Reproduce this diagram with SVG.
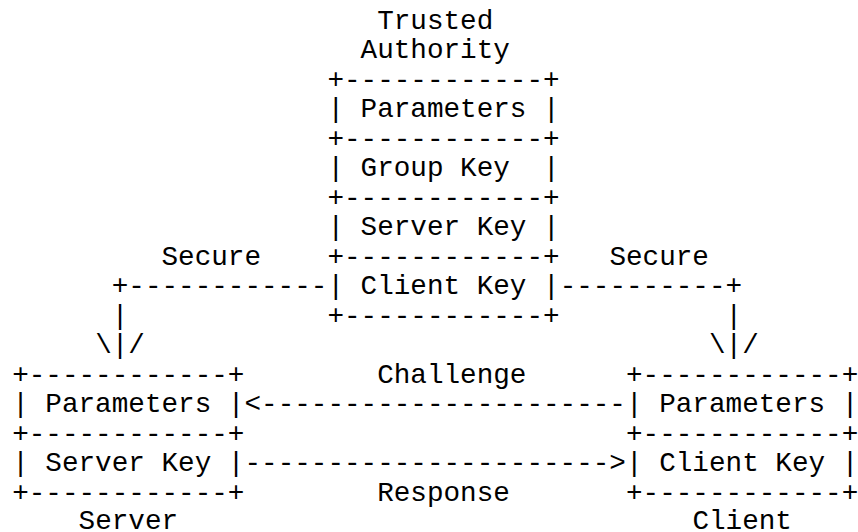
<svg xmlns="http://www.w3.org/2000/svg" width="858" height="532" viewBox="0 0 858 532" xml:space="preserve">
<style>
text { font-family: "Liberation Mono", "Courier New", "DejaVu Sans Mono", monospace; font-size: 27.65px; fill: #000; white-space: pre; }
</style>
<rect x="0" y="0" width="858" height="532" fill="#fff"/>
<g id="trusted-authority">
<text x="377.18" y="29">Trusted</text>
<text x="360.59" y="58.47">Authority</text>
<text x="327.41" y="87.94">+------------+</text>
<text x="327.41" y="117.41">| Parameters |</text>
<text x="327.41" y="146.88">+------------+</text>
<text x="327.41" y="176.35">| Group Key  |</text>
<text x="327.41" y="205.82">+------------+</text>
<text x="327.41" y="235.29">| Server Key |</text>
<text x="327.41" y="264.76">+------------+</text>
<text x="327.41" y="294.23">| Client Key |</text>
<text x="327.41" y="323.7">+------------+</text>
</g>
<g id="server">
<text x="12.2" y="382.64">+------------+</text>
<text x="12.2" y="412.11">| Parameters |</text>
<text x="12.2" y="441.58">+------------+</text>
<text x="12.2" y="471.05">| Server Key |</text>
<text x="12.2" y="500.52">+------------+</text>
<text x="78.56" y="528.5">Server</text>
</g>
<g id="client">
<text x="626.03" y="382.64">+------------+</text>
<text x="626.03" y="412.11">| Parameters |</text>
<text x="626.03" y="441.58">+------------+</text>
<text x="626.03" y="471.05">| Client Key |</text>
<text x="626.03" y="500.52">+------------+</text>
<text x="692.39" y="528.5">Client</text>
</g>
<g id="connectors">
<text x="161.51" y="264.76">Secure</text>
<text x="609.44" y="264.76">Secure</text>
<text x="111.74" y="294.23">+------------</text>
<text x="559.67" y="294.23">----------+</text>
<text x="111.74" y="323.7">|</text>
<text x="725.57" y="323.7">|</text>
<text x="95.15" y="353.17">\|/</text>
<text x="708.98" y="353.17">\|/</text>
<text x="377.18" y="382.64">Challenge</text>
<text x="244.46" y="412.11">&lt;----------------------</text>
<text x="244.46" y="471.05">----------------------&gt;</text>
<text x="377.18" y="500.52">Response</text>
</g>
</svg>
